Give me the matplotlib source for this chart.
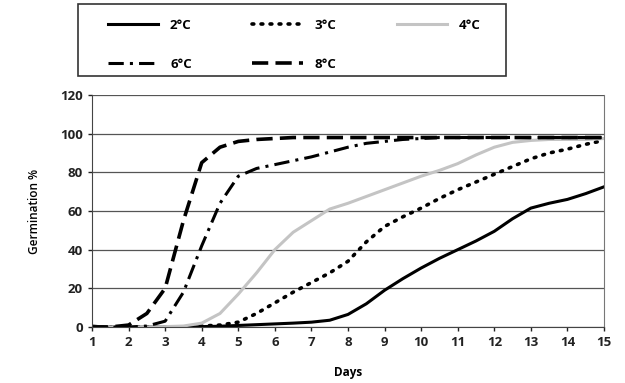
import matplotlib.pyplot as plt
from matplotlib.patches import Rectangle

plt.rcParams["font.family"] = ["Open Sans", "DejaVu Sans"]
plt.rcParams["font.weight"] = "bold"

# 天数 (半天间隔)
days = [1, 1.5, 2, 2.5, 3, 3.5, 4, 4.5, 5, 5.5, 6, 6.5, 7, 7.5, 8, 8.5, 9, 9.5,
        10, 10.5, 11, 11.5, 12, 12.5, 13, 13.5, 14, 14.5, 15]

g_2c = [0.5, -0.3, -0.3, 0, 0, 0, 0.2, 0.4, 0.8, 1.2, 1.6, 2.0, 2.5, 3.5, 6.5, 12,
        19, 25, 30.5, 35.5, 40, 44.5, 49.5, 56, 61.5, 64, 66, 69, 72.5]
g_3c = [0, 0, 0, 0, 0, 0, 0.5, 1, 2.5, 7, 12.5, 18, 23, 28, 34, 44, 52, 57,
        61.5, 66.5, 71, 75, 79, 83, 87, 90, 92, 94.5, 96.5]
g_4c = [0, 0, 0, 0, 0.2, 0.5, 2, 7, 17, 28, 40, 49, 55, 61, 64, 67.5, 71, 74.5,
        78, 81, 84.5, 89, 93, 95.5, 96.5, 97, 97, 97, 97.5]
g_6c = [0, 0, 0, 0.5, 3, 18, 42, 64, 78, 82, 84, 86, 88, 90.5, 93, 95, 96, 97,
        97.5, 98, 98, 98, 98, 98, 98, 98, 98, 98, 98]
g_8c = [0, 0, 1, 7, 20, 55, 85, 93, 96, 97, 97.5, 98, 98, 98, 98, 98, 98, 98,
        98, 98, 98, 98, 98, 98, 98, 98, 98, 98, 98]

fig = plt.figure(figsize=(6.25, 3.83), dpi=100)
ax = fig.add_axes([92 / 625, 1 - 327 / 383, (604 - 92) / 625, (327 - 95) / 383])

l2, = ax.plot(days, g_2c, color="black", linewidth=2.2, label="2°C")
l3, = ax.plot(days, g_3c, color="black", linewidth=2.6, linestyle=(0, (0.5, 2.0)),
              dash_capstyle="round", label="3°C")
l4, = ax.plot(days, g_4c, color="#c4c4c4", linewidth=2.2, label="4°C")
l6, = ax.plot(days, g_6c, color="black", linewidth=2.2,
              linestyle=(0, (5, 2, 1, 2)), label="6°C")
l8, = ax.plot(days, g_8c, color="black", linewidth=2.6,
              linestyle=(0, (4.5, 2)), label="8°C")

ax.set_xlim(1, 15)
ax.set_ylim(0, 120)
ax.set_xticks(range(1, 16))
ax.set_yticks(range(0, 121, 20))
ax.tick_params(labelsize=9.5, length=3, width=1, colors="#222222")
ax.yaxis.grid(True, color="#555555", linewidth=0.9)
ax.set_axisbelow(True)
ax.spines["top"].set_visible(False)
ax.spines["right"].set_color("#777777")
ax.spines["left"].set_color("#444444")
ax.spines["bottom"].set_color("#444444")

ax.set_xlabel("Days", fontsize=8.5, fontweight="bold", labelpad=12)
ax.set_ylabel("Germination %", fontsize=8.5, fontweight="semibold", labelpad=14)

# 图例边框
fig.patches.append(Rectangle((78 / 625, 1 - 76 / 383), 428 / 625, 72 / 383,
                             transform=fig.transFigure, fill=False,
                             edgecolor="#333333", linewidth=1.2))

fig.legend([l2, l6, l3, l8, l4], ["2°C", "6°C", "3°C", "8°C", "4°C"],
           ncol=3, loc="upper left",
           bbox_to_anchor=(108 / 625, 1 - 19 / 383),
           borderaxespad=0, borderpad=0, frameon=False,
           fontsize=9.5, handlelength=3.8, handletextpad=0.9,
           columnspacing=4.6, labelspacing=1.95)

plt.savefig("out.png")
